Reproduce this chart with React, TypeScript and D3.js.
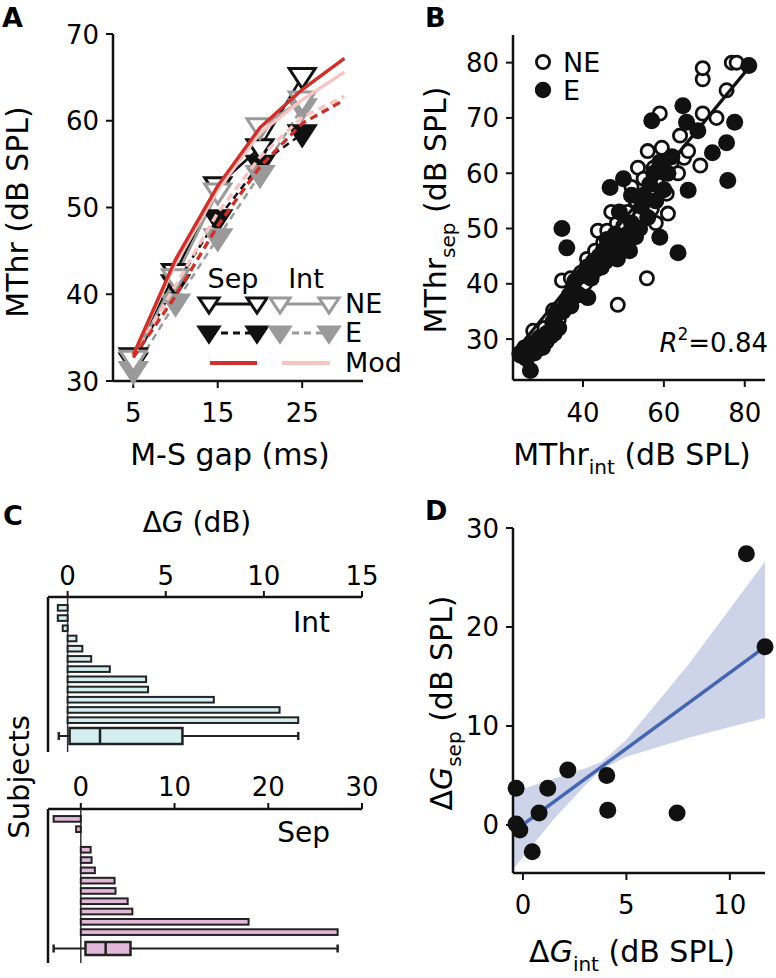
import React from "react";
import * as d3 from "d3";

const FONT = "DejaVu Sans";
const W = 776;
const H = 978;

// ---------- Panel A data ----------
const gapA = [5, 10, 15, 20, 25];
const sepNE_A = [32.8, 42.5, 52.5, 56.9, 65.1];
const sepE_A = [32.2, 41.2, 48.7, 55.0, 58.5];
const intNE_A = [32.5, 41.9, 51.8, 59.3, 62.4];
const intE_A = [31.2, 39.0, 46.5, 53.8, 61.5];
const gapModel = [5, 10, 15, 20, 25, 30];
const modSepNE = [33, 44, 52.5, 59.2, 63.6, 67.2];
const modIntNE = [33, 43.5, 52, 58.6, 62.4, 65.6];
const modSepE = [32.7, 39.8, 47.9, 54.7, 59.7, 62.4];
const modIntE = [32.9, 41, 49.4, 55.8, 60.4, 62.8];
const ticksAX = [5, 15, 25];
const ticksAY = [30, 40, 50, 60, 70];

// ---------- Panel B data (MThr_int, MThr_sep) ----------
const bNE: [number, number][] = [
  [24.5, 27], [25.5, 28.5], [27.7, 31.5], [28.5, 29], [29.5, 30.5], [30.5, 32], [31, 29.5],
  [32.6, 35.2], [33, 31], [34, 33.5], [34.8, 40.6], [35.5, 36], [36.5, 38], [37, 41], [38, 39],
  [39.5, 42], [40.5, 40], [41, 44.5], [42, 43], [43, 46], [43.7, 49.6], [44.5, 44], [45, 47.5],
  [46, 49.6], [47, 46], [48.4, 51], [48.6, 36.2], [49, 48], [50, 50.5], [51, 53], [52, 49],
  [53, 55], [53.6, 61], [54, 52], [55, 59], [55.8, 41], [56, 64], [56.5, 56], [57, 53.5],
  [58, 51], [58.5, 58], [59.5, 64.6], [59, 70.8], [60, 60.5], [60.7, 56.3], [61, 52.7],
  [62, 62], [63.5, 60], [64, 66.8], [65, 62.8], [66, 64], [69, 61.4], [69.6, 70.8], [69.6, 77],
  [69.6, 79], [73, 70], [75.5, 75], [76.8, 80], [78, 80], [52, 57.5], [47, 53], [57.5, 61],
];
const bE: [number, number][] = [
  [24.4, 27.4], [25.3, 28], [26, 26.5], [27, 24.3], [27.5, 29], [28, 27.5], [29, 30], [30, 28.5],
  [31, 31], [32, 30.5], [32.5, 33], [33.5, 34.5], [34, 32], [34.8, 50], [35, 35], [36, 46.5],
  [36, 37], [37, 36], [37.5, 39], [38, 40.5], [39, 38], [40, 41.5], [41, 43], [41.2, 37.5],
  [42, 41], [42.5, 44], [43, 42.5], [44, 45], [44.5, 43], [45, 46], [45.5, 44], [46, 48],
  [46.7, 57.4], [47, 45], [47.5, 47], [48, 49], [48.5, 44.5], [49, 46], [50, 59], [50, 47.5],
  [51, 49], [51.5, 46], [52, 51], [53, 48.5], [54, 50], [54.5, 54], [55, 56], [56, 52],
  [56.5, 58], [57, 69.5], [57.5, 60], [58, 55], [59, 48.4], [59, 62], [60, 57], [61, 60],
  [62, 63], [63.5, 45.6], [64.7, 72.2], [65.6, 69.2], [66, 56.9], [68.4, 67.7], [72, 63.7],
  [75.5, 65.5], [75.8, 58.7], [77.5, 69.2], [81, 79.5], [52, 56], [49, 53],
];
const fitBx = [24.4, 81];
const fitBy = [28.8, 79.1];
const ticksB = [30, 40, 50, 60, 70, 80];
const ticksBX = [40, 60, 80];

// ---------- Panel C data ----------
const intDG = [-0.5, -0.5, -0.25, 0.45, 0.75, 1.2, 2.15, 4.0, 4.1, 7.45, 10.8, 11.75];
const sepDG = [-2.9, -0.5, 0, 1.05, 1.15, 1.5, 3.6, 3.7, 5.0, 5.5, 17.9, 27.4];
const intBox = [-0.45, 0.1, 1.65, 5.85, 11.75]; // min q1 med q3 max
const sepBox = [-2.9, 0.5, 2.65, 5.3, 27.4];
const ticksCInt = [0, 5, 10, 15];
const ticksCSep = [0, 10, 20, 30];

// ---------- Panel D data ----------
const dInt = [-0.33, -0.33, -0.15, 0.45, 0.78, 1.2, 2.17, 4.05, 4.1, 7.45, 10.8, 11.7];
const dSep = [3.7, 0.1, -0.5, -2.7, 1.2, 3.7, 5.55, 5.0, 1.5, 1.2, 27.4, 18.0];
const fitDx = [-0.33, 11.7];
const fitDy = [-0.46, 18.0];
const bandX = [-0.48, 1.5, 3.0, 3.8, 5.0, 8.0, 11.7];
const bandUp = [3.3, 4.7, 5.7, 6.4, 8.6, 16.2, 26.6];
const bandLo = [-4.5, 0.6, 4.0, 5.6, 6.9, 8.8, 10.8];
const ticksDX = [0, 5, 10];
const ticksDY = [0, 10, 20, 30];

const BLACK = "#111";
const GRAY = "#9a9a9a";
const RED = "#cf3029";
const PINK = "#f6c4c1";
const TICK_FS = 26;
const LAB_FS = 30;

const triData = "M-13,-8L13,-8L0,12Z";
const triLeg = "M-10,-6L10,-6L0,9Z";

export default function App() {
  // ----- scales -----
  const xA = d3.scaleLinear().domain([2.6, 32.2]).range([113, 363]);
  const yA = d3.scaleLinear().domain([30, 70]).range([381, 34]);
  const xB = d3.scaleLinear().domain([22.7, 85]).range([513, 765]);
  const yB = d3.scaleLinear().domain([22.6, 85]).range([380, 35]);
  const xCi = d3.scaleLinear().domain([-1, 15]).range([48, 362]);
  const xCs = d3.scaleLinear().domain([-3.5, 30]).range([48, 362]);
  const idx = d3.range(12);
  const yCi = d3.scaleBand<number>().domain(idx).range([603, 725]).paddingInner(0.45).paddingOuter(0.2);
  const yCs = d3.scaleBand<number>().domain(idx).range([814, 937]).paddingInner(0.45).paddingOuter(0.2);
  const xD = d3.scaleLinear().domain([-0.48, 11.7]).range([513, 765]);
  const yD = d3.scaleLinear().domain([-4.85, 30]).range([873, 528]);

  const lineA = (vals: number[], xs: number[]) =>
    d3.line<number>().x((_, i) => xA(xs[i])).y((d) => yA(d))(vals) || "";

  const seriesA = [
    { vals: sepE_A, color: BLACK, filled: true, dash: "7,5" },
    { vals: sepNE_A, color: BLACK, filled: false, dash: null },
    { vals: intE_A, color: GRAY, filled: true, dash: "7,5" },
    { vals: intNE_A, color: GRAY, filled: false, dash: null },
  ];
  const modelsA = [
    { vals: modIntE, color: PINK, dash: "8,5" },
    { vals: modIntNE, color: PINK, dash: null },
    { vals: modSepE, color: RED, dash: "8,5" },
    { vals: modSepNE, color: RED, dash: null },
  ];

  const bandArea = d3
    .area<number>()
    .x((_, i) => xD(bandX[i]))
    .y0((_, i) => yD(bandLo[i]))
    .y1((d) => yD(d))(bandUp) || "";

  const boxPlot = (
    box: number[],
    xs: d3.ScaleLinear<number, number>,
    cy: number,
    h: number,
    fill: string
  ) => (
    <g>
      <line x1={xs(box[0])} x2={xs(box[1])} y1={cy} y2={cy} stroke="#222" strokeWidth={2} />
      <line x1={xs(box[3])} x2={xs(box[4])} y1={cy} y2={cy} stroke="#222" strokeWidth={2} />
      <line x1={xs(box[0])} x2={xs(box[0])} y1={cy - 4} y2={cy + 4} stroke="#222" strokeWidth={2.5} />
      <line x1={xs(box[4])} x2={xs(box[4])} y1={cy - 4} y2={cy + 4} stroke="#222" strokeWidth={2.5} />
      <rect x={xs(box[1])} y={cy - h / 2} width={xs(box[3]) - xs(box[1])} height={h} fill={fill} stroke="#222" strokeWidth={2.5} />
      <line x1={xs(box[2])} x2={xs(box[2])} y1={cy - h / 2} y2={cy + h / 2} stroke="#222" strokeWidth={2.5} />
    </g>
  );

  const bars = (
    vals: number[],
    xs: d3.ScaleLinear<number, number>,
    ys: d3.ScaleBand<number>,
    fill: string
  ) =>
    vals.map((v, i) =>
      v === 0 ? null : (
        <rect
          key={i}
          x={Math.min(xs(0), xs(v))}
          y={ys(i)!}
          width={Math.abs(xs(v) - xs(0))}
          height={ys.bandwidth()}
          fill={fill}
          stroke="#222"
          strokeWidth={2}
        />
      )
    );

  return (
    <svg
      width={W}
      height={H}
      viewBox={`0 0 ${W} ${H}`}
      style={{ position: "absolute", left: 0, top: 0, background: "#fff" }}
      fontFamily={FONT}
    >
      <rect width={W} height={H} fill="#fff" />

      {/* ================= Panel A ================= */}
      <text x={2} y={27} fontSize={27} fontWeight="bold">A</text>
      <line x1={113} x2={113} y1={yA(70)} y2={381} stroke={BLACK} strokeWidth={2.5} />
      <line x1={113} x2={363} y1={381} y2={381} stroke={BLACK} strokeWidth={2.5} />
      {ticksAY.map((t) => (
        <g key={"ay" + t}>
          <line x1={106} x2={113} y1={yA(t)} y2={yA(t)} stroke={BLACK} strokeWidth={2} />
          <text x={99} y={yA(t) + 9.5} fontSize={TICK_FS} textAnchor="end">{t}</text>
        </g>
      ))}
      {ticksAX.map((t) => (
        <g key={"ax" + t}>
          <line x1={xA(t)} x2={xA(t)} y1={381} y2={388} stroke={BLACK} strokeWidth={2} />
          <text x={xA(t)} y={422} fontSize={TICK_FS} textAnchor="middle">{t}</text>
        </g>
      ))}
      <text x={230} y={465} fontSize={LAB_FS} textAnchor="middle">M-S gap (ms)</text>
      <text transform="translate(28,212) rotate(-90)" fontSize={LAB_FS} textAnchor="middle">MThr (dB SPL)</text>

      {seriesA.map((s, k) => (
        <path key={"al" + k} d={lineA(s.vals, gapA)} fill="none" stroke={s.color} strokeWidth={2.5} strokeDasharray={s.dash || undefined} />
      ))}
      {seriesA.map((s, k) =>
        s.vals.map((v, i) => (
          <path
            key={"am" + k + "-" + i}
            d={triData}
            transform={`translate(${xA(gapA[i])},${yA(v)})`}
            fill={s.filled ? s.color : "#fff"}
            stroke={s.color}
            strokeWidth={3}
            strokeLinejoin="miter"
          />
        ))
      )}
      {modelsA.map((m, k) => (
        <path key={"mod" + k} d={lineA(m.vals, gapModel)} fill="none" stroke={m.color} strokeWidth={3.4} strokeDasharray={m.dash || undefined} />
      ))}
      {/* legend A */}
      <text x={233} y={288} fontSize={27} textAnchor="middle">Sep</text>
      <text x={306} y={288} fontSize={27} textAnchor="middle">Int</text>
      <line x1={209} x2={257} y1={304} y2={304} stroke={BLACK} strokeWidth={3} />
      <line x1={280} x2={329} y1={304} y2={304} stroke={GRAY} strokeWidth={3} />
      <line x1={209} x2={257} y1={333} y2={333} stroke={BLACK} strokeWidth={3} strokeDasharray="7,5" />
      <line x1={280} x2={329} y1={333} y2={333} stroke={GRAY} strokeWidth={3} strokeDasharray="7,5" />
      {[209, 257].map((x) => (
        <g key={"lgb" + x}>
          <path d={triLeg} transform={`translate(${x},304)`} fill="#fff" stroke={BLACK} strokeWidth={3} />
          <path d={triLeg} transform={`translate(${x},333)`} fill={BLACK} stroke={BLACK} strokeWidth={3} />
        </g>
      ))}
      {[280, 329].map((x) => (
        <g key={"lgg" + x}>
          <path d={triLeg} transform={`translate(${x},304)`} fill="#fff" stroke={GRAY} strokeWidth={3} />
          <path d={triLeg} transform={`translate(${x},333)`} fill={GRAY} stroke={GRAY} strokeWidth={3} />
        </g>
      ))}
      <line x1={210} x2={257} y1={363} y2={363} stroke={RED} strokeWidth={4} />
      <line x1={282} x2={330} y1={363} y2={363} stroke={PINK} strokeWidth={4} />
      <text x={345} y={313} fontSize={27}>NE</text>
      <text x={345} y={342} fontSize={27}>E</text>
      <text x={345} y={372} fontSize={27}>Mod</text>

      {/* ================= Panel B ================= */}
      <text x={425} y={27} fontSize={27} fontWeight="bold">B</text>
      <line x1={513} x2={513} y1={35} y2={380} stroke={BLACK} strokeWidth={2.5} />
      <line x1={513} x2={765} y1={380} y2={380} stroke={BLACK} strokeWidth={2.5} />
      {ticksB.map((t) => (
        <g key={"by" + t}>
          <line x1={506} x2={513} y1={yB(t)} y2={yB(t)} stroke={BLACK} strokeWidth={2} />
          <text x={499} y={yB(t) + 9.5} fontSize={TICK_FS} textAnchor="end">{t}</text>
        </g>
      ))}
      {ticksBX.map((t) => (
        <g key={"bx" + t}>
          <line x1={xB(t)} x2={xB(t)} y1={380} y2={387} stroke={BLACK} strokeWidth={2} />
          <text x={xB(t)} y={422} fontSize={TICK_FS} textAnchor="middle">{t}</text>
        </g>
      ))}
      {bNE.map((p, i) => (
        <circle key={"bn" + i} cx={xB(p[0])} cy={yB(p[1])} r={6.6} fill="#fff" stroke={BLACK} strokeWidth={2.8} />
      ))}
      {bE.map((p, i) => (
        <circle key={"be" + i} cx={xB(p[0])} cy={yB(p[1])} r={8.5} fill={BLACK} />
      ))}
      <line x1={xB(fitBx[0])} x2={xB(fitBx[1])} y1={yB(fitBy[0])} y2={yB(fitBy[1])} stroke={BLACK} strokeWidth={3.2} />
      <circle cx={543} cy={62} r={6.6} fill="#fff" stroke={BLACK} strokeWidth={2.8} />
      <circle cx={543} cy={90} r={8.2} fill={BLACK} />
      <text x={563} y={72} fontSize={27}>NE</text>
      <text x={563} y={100} fontSize={27}>E</text>
      <text x={768} y={352} fontSize={26} textAnchor="end">
        <tspan fontStyle="italic">R</tspan>
        <tspan fontSize={17} dy={-12}>2</tspan>
        <tspan dy={12}>=0.84</tspan>
      </text>
      <text x={632} y={465} fontSize={LAB_FS} textAnchor="middle">
        <tspan>MThr</tspan>
        <tspan fontSize={20} dy={9}>int</tspan>
        <tspan dy={-9}> (dB SPL)</tspan>
      </text>
      <text transform="translate(446,210) rotate(-90)" fontSize={LAB_FS} textAnchor="middle">
        <tspan>MThr</tspan>
        <tspan fontSize={20} dy={9}>sep</tspan>
        <tspan dy={-9}> (dB SPL)</tspan>
      </text>

      {/* ================= Panel C ================= */}
      <text x={3} y={525} fontSize={27} fontWeight="bold">C</text>
      <text x={197} y={532} fontSize={28} textAnchor="middle">
        <tspan>Δ</tspan>
        <tspan fontStyle="italic">G</tspan>
        <tspan> (dB)</tspan>
      </text>
      <text transform="translate(29,777) rotate(-90)" fontSize={29} textAnchor="middle">Subjects</text>

      {/* Int subplot */}
      <line x1={48} x2={362} y1={597} y2={597} stroke={BLACK} strokeWidth={2.5} />
      <line x1={48} x2={48} y1={597} y2={752} stroke={BLACK} strokeWidth={2.5} />
      <line x1={xCi(0)} x2={xCi(0)} y1={597} y2={752} stroke="#333" strokeWidth={1.5} />
      {ticksCInt.map((t) => (
        <g key={"ci" + t}>
          <line x1={xCi(t)} x2={xCi(t)} y1={591} y2={597} stroke={BLACK} strokeWidth={2} />
          <text x={xCi(t)} y={585} fontSize={TICK_FS} textAnchor="middle">{t}</text>
        </g>
      ))}
      {bars(intDG, xCi, yCi, "#d4eff1")}
      {boxPlot(intBox, xCi, 736, 16, "#d4eff1")}
      <text x={330} y={632} fontSize={28} textAnchor="end">Int</text>

      {/* Sep subplot */}
      <line x1={48} x2={362} y1={809} y2={809} stroke={BLACK} strokeWidth={2.5} />
      <line x1={48} x2={48} y1={809} y2={963} stroke={BLACK} strokeWidth={2.5} />
      <line x1={xCs(0)} x2={xCs(0)} y1={809} y2={963} stroke="#333" strokeWidth={1.5} />
      {ticksCSep.map((t) => (
        <g key={"cs" + t}>
          <line x1={xCs(t)} x2={xCs(t)} y1={803} y2={809} stroke={BLACK} strokeWidth={2} />
          <text x={xCs(t)} y={796} fontSize={TICK_FS} textAnchor="middle">{t}</text>
        </g>
      ))}
      {bars(sepDG, xCs, yCs, "#e3b7d9")}
      {boxPlot(sepBox, xCs, 948.5, 13, "#e3b7d9")}
      <text x={330} y={842} fontSize={28} textAnchor="end">Sep</text>

      {/* ================= Panel D ================= */}
      <text x={425} y={520} fontSize={27} fontWeight="bold">D</text>
      <path d={bandArea} fill="#cdd3e9" />
      <line x1={513} x2={513} y1={528} y2={873} stroke={BLACK} strokeWidth={2.5} />
      <line x1={513} x2={765} y1={873} y2={873} stroke={BLACK} strokeWidth={2.5} />
      {ticksDY.map((t) => (
        <g key={"dy" + t}>
          <line x1={506} x2={513} y1={yD(t)} y2={yD(t)} stroke={BLACK} strokeWidth={2} />
          <text x={499} y={yD(t) + 9.5} fontSize={TICK_FS} textAnchor="end">{t}</text>
        </g>
      ))}
      {ticksDX.map((t) => (
        <g key={"dx" + t}>
          <line x1={xD(t)} x2={xD(t)} y1={873} y2={880} stroke={BLACK} strokeWidth={2} />
          <text x={xD(t)} y={914} fontSize={TICK_FS} textAnchor="middle">{t}</text>
        </g>
      ))}
      <line x1={xD(fitDx[0])} x2={xD(fitDx[1])} y1={yD(fitDy[0])} y2={yD(fitDy[1])} stroke="#4466b0" strokeWidth={3.5} />
      {dInt.map((v, i) => (
        <circle key={"dp" + i} cx={xD(v)} cy={yD(dSep[i])} r={8.5} fill={BLACK} />
      ))}
      <text x={632} y={962} fontSize={LAB_FS} textAnchor="middle">
        <tspan>Δ</tspan>
        <tspan fontStyle="italic">G</tspan>
        <tspan fontSize={20} dy={9}>int</tspan>
        <tspan dy={-9}> (dB SPL)</tspan>
      </text>
      <text transform="translate(452,703) rotate(-90)" fontSize={LAB_FS} textAnchor="middle">
        <tspan>Δ</tspan>
        <tspan fontStyle="italic">G</tspan>
        <tspan fontSize={20} dy={9}>sep</tspan>
        <tspan dy={-9}> (dB SPL)</tspan>
      </text>
    </svg>
  );
}
